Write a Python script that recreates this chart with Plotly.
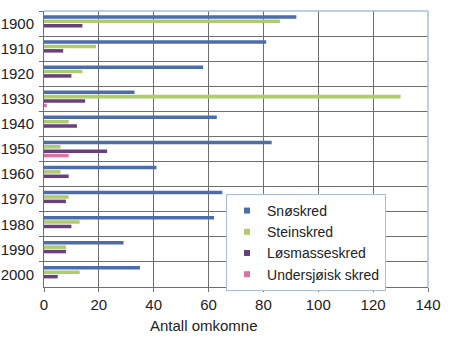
import plotly.graph_objects as go

years = ["1900", "1910", "1920", "1930", "1940", "1950", "1960", "1970", "1980", "1990", "2000"]
snoskred = [92, 81, 58, 33, 63, 83, 41, 65, 62, 29, 35]
steinskred = [86, 19, 14, 130, 9, 6, 6, 9, 13, 8, 13]
losmasseskred = [14, 7, 10, 15, 12, 23, 9, 8, 10, 8, 5]
undersjoisk = [0, 0, 0, 1, 0, 9, 0, 0, 0, 0, 0]

series = [
    ("Snøskred", snoskred, "#4D6DAA"),
    ("Steinskred", steinskred, "#AECB6E"),
    ("Løsmasseskred", losmasseskred, "#6A3F7E"),
    ("Undersjøisk skred", undersjoisk, "#D9729F"),
]

FONT = "Liberation Sans, Arial, sans-serif"
fig = go.Figure()
for name, vals, col in series:
    fig.add_trace(go.Bar(y=years, x=vals, orientation="h", name=name,
                         marker=dict(color=col, line=dict(width=0)), showlegend=False))
for name, vals, col in series:
    fig.add_trace(go.Scatter(x=[None], y=[None], mode="markers", name=name,
                             marker=dict(symbol="square", size=6, color=col)))

grid = "#6E6E6E"
fig.update_layout(
    width=450, height=347,
    margin=dict(l=44, r=22, t=11, b=60),
    paper_bgcolor="white", plot_bgcolor="white",
    barmode="group", bargap=0.3, bargroupgap=0.2,
    font=dict(family=FONT, size=15, color="#222222"),
    xaxis=dict(range=[0, 140], dtick=20, showgrid=True, gridcolor=grid, gridwidth=1,
               showline=True, linecolor=grid, linewidth=1, ticks="outside", ticklen=4,
               tickcolor=grid, zeroline=False, tickfont=dict(size=15), automargin=False),
    yaxis=dict(autorange="reversed", type="category", tickson="boundaries", showgrid=True,
               gridcolor=grid, gridwidth=1, showline=True, linecolor=grid, linewidth=1,
               ticks="outside", ticklen=4, tickcolor=grid, tickfont=dict(size=15),
               ticklabelstandoff=6, automargin=False),
    legend=dict(x=0.474, y=0.337, xanchor="left", yanchor="top",
                bordercolor="#A9BCE3", borderwidth=1, bgcolor="white",
                font=dict(size=14), traceorder="normal", tracegroupgap=0),
    showlegend=True,
)
fig.add_shape(type="line", xref="paper", yref="paper", x0=0, x1=1, y0=1, y1=1,
              line=dict(color="#A9BCE3", width=1.5), layer="above")
fig.add_shape(type="line", xref="paper", yref="paper", x0=1, x1=1, y0=0, y1=1,
              line=dict(color="#A9BCE3", width=1.5), layer="above")
fig.add_annotation(text="Antall omkomne", xref="paper", yref="paper", x=0.417, y=0,
                   yshift=-38, xanchor="center", yanchor="middle", showarrow=False,
                   font=dict(size=15))
fig.write_html("out.html")
